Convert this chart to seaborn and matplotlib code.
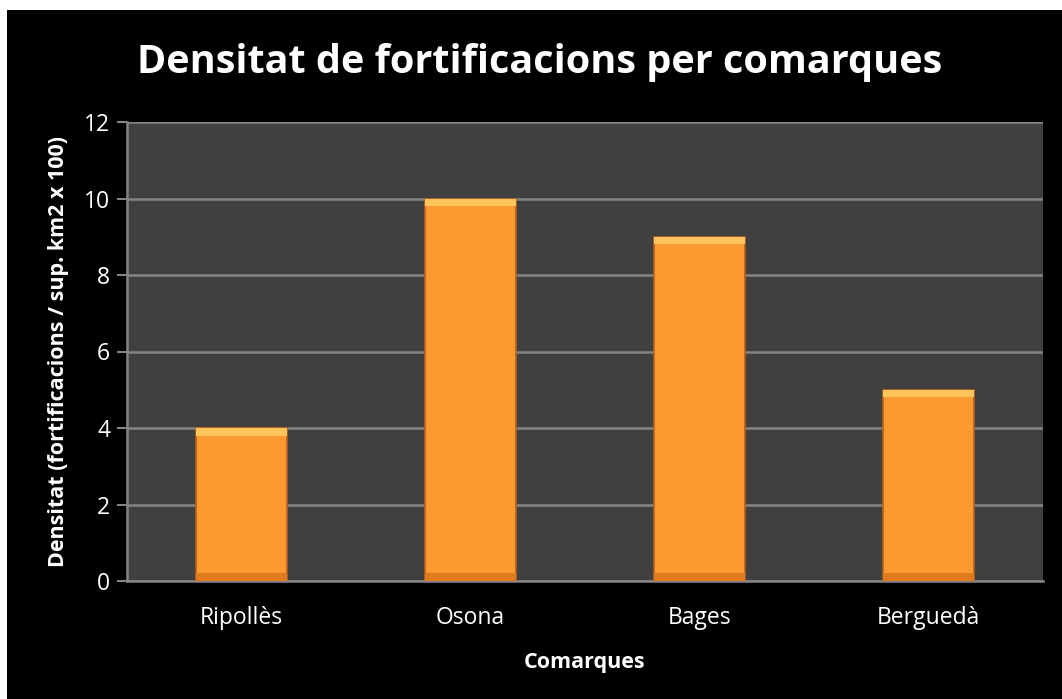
import pandas as pd
import matplotlib.pyplot as plt
import matplotlib.patches as mpatches
import seaborn as sns

# Chart data
comarques = ["Ripollès", "Osona", "Bages", "Berguedà"]
densitat = [4, 10, 9, 5]

df = pd.DataFrame({"Comarca": comarques, "Densitat": densitat})

sns.set_style("dark")
plt.rcParams["font.family"] = ["Open Sans", "DejaVu Sans"]

fig = plt.figure(figsize=(10.62, 6.99), dpi=100)
fig.patch.set_facecolor("white")
# black chart background with thin white border on top/left
fig.patches.append(mpatches.Rectangle((7 / 1062, 0), 1, 1 - 10 / 699,
                                      transform=fig.transFigure,
                                      facecolor="black", edgecolor="none",
                                      zorder=-1))

ax = fig.add_axes([127 / 1062, 1 - 581 / 699, (1043 - 127) / 1062, (581 - 122) / 699])
ax.set_facecolor("#404040")

sns.barplot(data=df, x="Comarca", y="Densitat", color="#FA9A30",
            width=0.4, saturation=1, edgecolor="#B8601A", linewidth=1.2,
            ax=ax, zorder=3)

# simple bevel effect: light top strip and darker bottom strip
for bar in ax.patches:
    x0, w = bar.get_x(), bar.get_width()
    h = bar.get_height()
    ax.add_patch(mpatches.Rectangle((x0, h - 0.2), w, 0.2, facecolor="#FFC45C",
                                    edgecolor="none", zorder=4))
    ax.add_patch(mpatches.Rectangle((x0, 0), w, 0.2, facecolor="#E07A1F",
                                    edgecolor="none", zorder=4))

ax.set_ylim(0, 12)
ax.set_xlim(-0.5, 3.5)
ax.set_yticks(range(0, 13, 2))
ax.grid(axis="y", color="#858585", linewidth=1.8, zorder=1)
ax.grid(axis="x", visible=False)

for s in ["top", "right"]:
    ax.spines[s].set_visible(False)
for s in ["left", "bottom"]:
    ax.spines[s].set_visible(True)
    ax.spines[s].set_color("#858585")
    ax.spines[s].set_linewidth(1.8)

ax.tick_params(axis="y", colors="white", labelsize=16.5, length=7, width=1.5,
               left=True, pad=5)
ax.tick_params(axis="y", color="#858585")
ax.tick_params(axis="x", colors="white", labelsize=16.5, length=0, pad=18)

ax.set_xlabel("Comarques", color="white", fontsize=15.5, fontweight="bold", labelpad=16)
ax.set_ylabel("Densitat (fortificacions / sup. km2 x 100)", color="white",
              fontsize=15.5, fontweight="bold", labelpad=11)

fig.text(0.508, 1 - 63 / 699, "Densitat de fortificacions per comarques",
         color="white", fontsize=28.5, fontweight="bold", ha="center", va="center")

plt.savefig("out.png", dpi=100, facecolor=fig.get_facecolor())
